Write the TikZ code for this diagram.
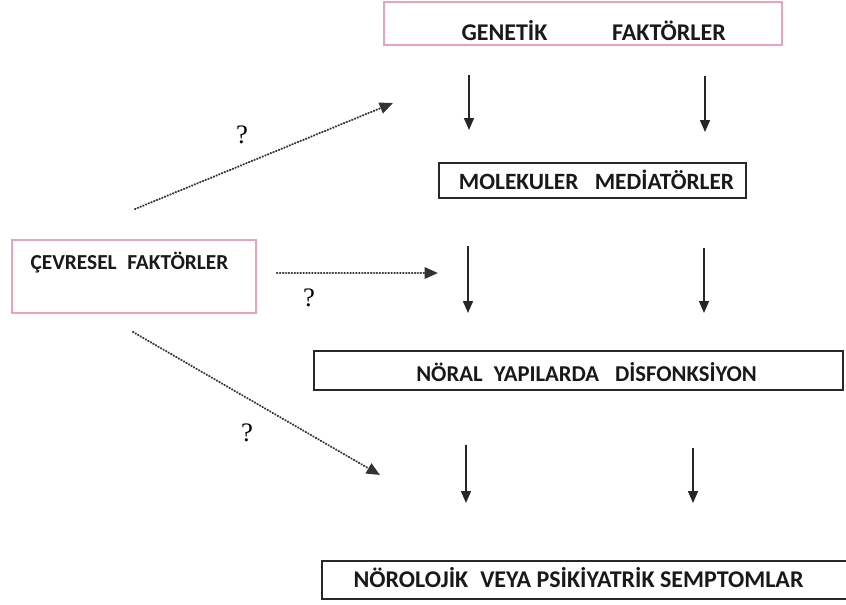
\documentclass[tikz,border=0pt]{standalone}
\usepackage{fontspec}
\setmainfont{Carlito}
\newfontfamily\qfont{Liberation Serif}
\usetikzlibrary{arrows.meta}

\tikzset{every picture/.style={line width=0.75pt}}
\definecolor{boxpink}{RGB}{238,160,188}
\definecolor{boxgray}{RGB}{40,40,40}
\tikzset{
  pinkbox/.style={draw=boxpink, line width=1.1pt, inner sep=0pt},
  graybox/.style={draw=boxgray, line width=1.2pt, inner sep=0pt},
  caps/.style={font=\bfseries\fontsize{#1}{#1}\selectfont, inner sep=0.75pt, text=black!90},
  caps/.default=18,
  flow/.style={line width=1.1pt, draw=black!85, -{Triangle[length=9pt,width=7.5pt]}},
  maybe/.style={line width=1.6pt, draw=black!80, line cap=round, dash pattern=on 0.3pt off 1.9pt, -{Triangle[length=10pt,width=8.5pt,line cap=butt]}},
  qmark/.style={font=\qfont\fontsize{20}{20}\selectfont, inner sep=0pt}
}

\begin{document}
\begin{tikzpicture}[x=0.75pt,y=0.75pt,yscale=-1,xscale=1]
\useasboundingbox (0,0) rectangle (846,604);

%Shape: Rectangle [id:genbox]
\node [pinkbox, minimum width=298.5pt, minimum height=32.25pt] (genbox) at (583,23.5) {};
\node [caps] (genL) at (504.5,31) {GENETİK};
\node [caps] (genR) at (669,31) {FAKTÖRLER};

%Shape: Rectangle [id:molbox]
\node [graybox, minimum width=230.25pt, minimum height=26.25pt] (molbox) at (592.5,180.5) {};
\node [caps=17.5] (molT) at (596.5,180) {MOLEKULER\hspace{0.7em}MEDİATÖRLER};

%Shape: Rectangle [id:cevbox]
\node [pinkbox, minimum width=183pt, minimum height=54.75pt] (cevbox) at (134,276.5) {};
\node [caps=16] (cevT) at (129.5,263) {ÇEVRESEL\hspace{0.5em}FAKTÖRLER};

%Shape: Rectangle [id:norbox]
\node [graybox, minimum width=396.75pt, minimum height=29.25pt] (norbox) at (578.5,370.5) {};
\node [caps=17] (norT) at (586.5,372) {NÖRAL\hspace{0.5em}YAPILARDA\hspace{0.7em}DİSFONKSİYON};

%Shape: Rectangle [id:symbox]
\node [graybox, minimum width=397.5pt, minimum height=28.5pt] (symbox) at (587,580) {};
\node [caps] (symT) at (578.5,578) {NÖROLOJİK\hspace{0.5em}VEYA PSİKİYATRİK SEMPTOMLAR};

%Straight Lines [id:flow]
\foreach \n/\x/\ya/\yb in {a/469/75/130, b/705/76/132, c/468/246/313, d/704/248/313, e/466/445/503, f/693/448/503}{
  \coordinate (\n top) at (\x,\ya);
  \coordinate (\n end) at (\x,\yb);
  \draw [flow] (\n top) -- (\n end);
}

%Dotted Lines [id:maybe]
\coordinate (d1s) at (135,209);
\coordinate (d1e) at (393,103);
\coordinate (d2s) at (277,273);
\coordinate (d2e) at (438,273);
\coordinate (d3s) at (133,332);
\coordinate (d3e) at (380,475);
\draw [maybe] (d1s) -- (d1e);
\draw [maybe] (d2s) -- (d2e);
\draw [maybe] (d3s) -- (d3e);

\node [qmark] (q1) at (242,135) {?};
\node [qmark] (q2) at (309,298) {?};
\node [qmark] (q3) at (247,433) {?};

\end{tikzpicture}
\end{document}
